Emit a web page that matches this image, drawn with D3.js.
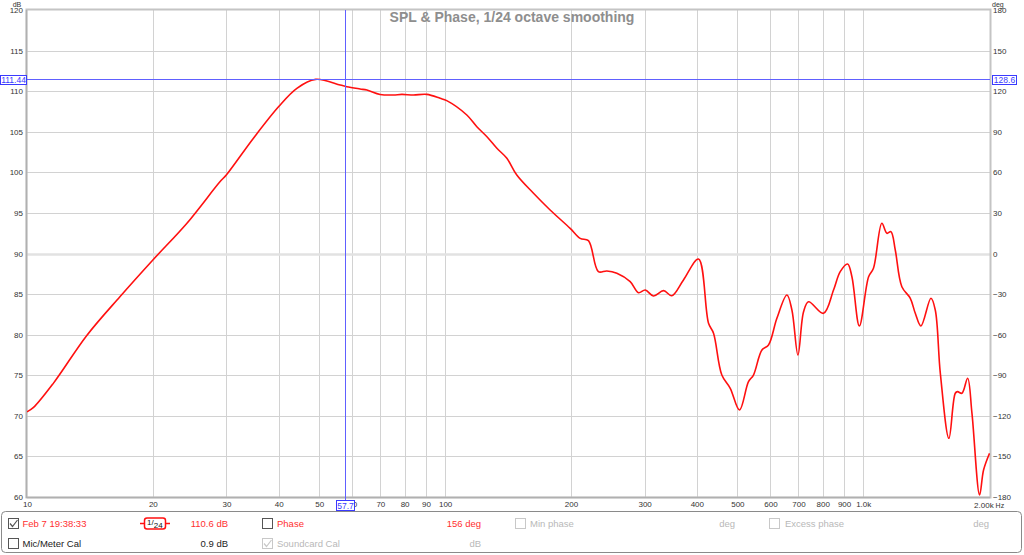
<!DOCTYPE html>
<html><head><meta charset="utf-8">
<script src="https://cdn.jsdelivr.net/npm/d3@7"></script>
<style>body{margin:0;background:#fff;} svg{display:block;font-family:"Liberation Sans",Arial,sans-serif;}</style>
</head><body><svg id="c" width="1024" height="555"></svg>
<script>
const freqs = [10,10.35,11.56,13.9,16.7,20,24.1,28.9,30,34.8,40,44.2,49,56.1,58.2,62.6,65,69.9,75.2,78.8,84,90.4,97.3,100.9,112.7,119.1,125.9,133,140.5,148.4,162.7,178.3,199.1,210.4,220.2,232.6,243.7,257.5,277.1,290.1,301,315,333,348.5,371.6,403.6,426.6,438.5,459,480.8,505.8,531.6,546.4,572.4,593.6,621.6,656.9,675.2,698,719.9,740,803.5,849.2,881,917.5,939.6,979,1030,1058,1108,1139,1165,1193,1237,1296,1332,1374,1452,1487,1529,1603,1660,1681,1722,1777,1820,1898,1940,2005];
const spl = [70.5,71.0,74.0,79.9,84.7,89.2,93.7,98.8,99.7,104.2,108.1,110.35,111.45,110.76,110.55,110.27,110.14,109.6,109.53,109.6,109.53,109.6,109.12,108.83,107.06,105.62,104.39,102.96,101.73,99.67,97.42,95.36,93.1,91.87,91.58,87.76,87.85,87.56,86.53,85.17,85.5,84.77,85.42,84.8,86.74,89.32,81.4,80.17,75.03,73.39,70.72,74.21,75.03,78.11,78.73,82.02,84.89,83.04,77.5,82.83,84.06,82.63,85.5,87.76,88.71,87.14,81.07,87.14,88.18,93.72,92.49,92.69,90.43,85.91,84.48,82.63,81.07,84.48,83.04,75.24,67.23,72.78,72.98,72.78,74.63,70.3,60.25,63.33,65.39];
const dbTicks = [60,65,70,75,80,85,90,95,100,105,110,115,120];
const phaseTicks = [-180,-150,-120,-90,-60,-30,0,30,60,90,120,150,180];
const freqTicks = [10,20,30,40,50,60,70,80,90,100,200,300,400,500,600,700,800,900,1000];
const freqTickLabels = ["10","20","30","40","50","60","70","80","90","100","200","300","400","500","600","700","800","900","1.0k"];
const cursorFreq = 57.7, cursorDb = 111.44, cursorPhase = 128.6;

const L=27,T=10,R=990,B=497;
const svg = d3.select("#c");
const x = d3.scaleLog().domain([10,2010]).range([L,R]);
const y = d3.scaleLinear().domain([60,120]).range([B,T]);
const yp = d3.scaleLinear().domain([-180,180]).range([B,T]);

// grid
const g = svg.append("g");
g.selectAll(".vg").data(freqTicks.filter(d=>d>10)).enter().append("line")
  .attr("x1",d=>Math.round(x(d))+0.5).attr("x2",d=>Math.round(x(d))+0.5).attr("y1",T).attr("y2",B)
  .attr("stroke","#d2d2d2").attr("stroke-width",1);
g.selectAll(".hg").data(dbTicks.filter(d=>d>60&&d<120)).enter().append("line")
  .attr("x1",L).attr("x2",R).attr("y1",d=>Math.round(y(d))+0.5).attr("y2",d=>Math.round(y(d))+0.5)
  .attr("stroke",d=>d===90?"#e2e2e2":"#d2d2d2").attr("stroke-width",d=>d===90?2.5:1);

// frame
svg.append("rect").attr("x",L-0.5).attr("y",T-0.5).attr("width",R-L+1).attr("height",B-T+1)
  .attr("fill","none").attr("stroke","#c4c4c4").attr("stroke-width",2);
svg.append("line").attr("x1",L-0.5).attr("x2",L-0.5).attr("y1",T).attr("y2",B+1).attr("stroke","#b0b0b0").attr("stroke-width",1.5);
svg.append("line").attr("x1",L).attr("x2",R).attr("y1",B+0.5).attr("y2",B+0.5).attr("stroke","#b0b0b0").attr("stroke-width",1.5);

// axes
const axStyle = sel => { sel.select(".domain").remove(); sel.selectAll("line").remove();
  sel.selectAll("text").attr("fill","#333").style("font-size","8px").style("font-family","'Liberation Sans',Arial,sans-serif"); };
svg.append("g").attr("transform",`translate(${L},0)`)
  .call(d3.axisLeft(y).tickValues(dbTicks).tickSize(0).tickPadding(4)).call(axStyle);
svg.append("g").attr("transform",`translate(${R},0)`)
  .call(d3.axisRight(yp).tickValues(phaseTicks).tickSize(0).tickPadding(3)).call(axStyle);
svg.append("g").attr("transform",`translate(0,${B})`)
  .call(d3.axisBottom(x).tickValues(freqTicks).tickFormat((d,i)=>freqTickLabels[i]).tickSize(0).tickPadding(4)).call(axStyle);
svg.append("text").attr("x",x(2000)-15).attr("y",508).attr("fill","#333").style("font-size","8px")
  .text("2.00k").append("tspan").style("font-size","7px").text(" Hz");
svg.append("text").attr("x",17).attr("y",6.5).attr("text-anchor","middle").attr("fill","#333").style("font-size","7px").text("dB");
svg.append("text").attr("x",992).attr("y",6.5).attr("fill","#333").style("font-size","7px").text("deg");

// title
svg.append("text").attr("x",512).attr("y",22).attr("text-anchor","middle").attr("fill","#8e8e8e")
  .style("font-size","14px").style("font-weight","bold").text("SPL & Phase, 1/24 octave smoothing");

// curve
svg.append("clipPath").attr("id","clip").append("rect").attr("x",L).attr("y",T).attr("width",R-L).attr("height",B-T);
const line = d3.line().x((d,i)=>x(freqs[i])).y(d=>y(d)).curve(d3.curveCatmullRom.alpha(0.5));
svg.append("path").attr("d",line(spl)).attr("fill","none").attr("stroke","#ff1010").attr("stroke-width",1.6)
  .attr("clip-path","url(#clip)");

// cursors
const cx = Math.round(x(cursorFreq))+0.5, cy = Math.round(y(cursorDb))+0.5;
svg.append("line").attr("x1",cx).attr("x2",cx).attr("y1",T).attr("y2",B+4).attr("stroke","#6060ff").attr("stroke-width",1).attr("shape-rendering","crispEdges");
svg.append("line").attr("x1",L).attr("x2",R).attr("y1",cy).attr("y2",cy).attr("stroke","#6060ff").attr("stroke-width",1).attr("shape-rendering","crispEdges");
const box = (bx,by,w,h,txt)=>{
  svg.append("rect").attr("x",bx+0.5).attr("y",by+0.5).attr("width",w).attr("height",h).attr("fill","#fff").attr("stroke","#3a3aff");
  svg.append("text").attr("x",bx+w/2+0.5).attr("y",by+h/2+3.5).attr("text-anchor","middle").attr("fill","#3a3aff").style("font-size","8.5px").text(txt);
};
box(cx-9.5,500,18,10,String(cursorFreq));
box(0,cy-4.5,26,9,cursorDb.toFixed(2));
box(992,cy-4.5,24,9,String(cursorPhase));

// legend panel
svg.append("rect").attr("x",1.5).attr("y",511.5).attr("width",1020).attr("height",41).attr("rx",4)
  .attr("fill","#fff").attr("stroke","#8a8a8a");
const cb = (bx,by,checked,col)=>{
  svg.append("rect").attr("x",bx+0.5).attr("y",by+0.5).attr("width",10).attr("height",10).attr("fill","#fff").attr("stroke",col);
  if(checked) svg.append("path").attr("d",`M${bx+2},${by+5.5} L${bx+4.5},${by+8.5} L${bx+9.5},${by+2}`).attr("fill","none").attr("stroke",col).attr("stroke-width",1.2);
};
const txt = (tx,ty,s,col,anchor)=>svg.append("text").attr("x",tx).attr("y",ty).attr("fill",col).attr("text-anchor",anchor||"start").style("font-size","9.5px").text(s);
const r1 = 526.5, r2 = 546.5;
cb(8,518,true,"#555"); txt(22.5,r1,"Feb 7 19:38:33","#ff3030");
// smoothing icon
svg.append("line").attr("x1",140).attr("x2",145).attr("y1",523.5).attr("y2",523.5).attr("stroke","#ff1010").attr("stroke-width",1.5);
svg.append("line").attr("x1",165).attr("x2",170).attr("y1",523.5).attr("y2",523.5).attr("stroke","#ff1010").attr("stroke-width",1.5);
svg.append("rect").attr("x",144.5).attr("y",518).attr("width",21).attr("height",11).attr("rx",2.5).attr("fill","#fff").attr("stroke","#ff1010").attr("stroke-width",1.5);
const st = svg.append("text").attr("x",147).attr("y",525).attr("fill","#111").style("font-size","8px");
st.append("tspan").text("1");
st.append("tspan").text("/").attr("dy",0);
st.append("tspan").text("24").attr("dy",2.5);
txt(228,r1,"110.6 dB","#ff3030","end");
cb(262,518,false,"#555"); txt(277,r1,"Phase","#ff3030");
txt(481,r1,"156 deg","#ff3030","end");
cb(515,518,false,"#c8c8c8"); txt(530,r1,"Min phase","#b8b8b8");
txt(735,r1,"deg","#b8b8b8","end");
cb(769,518,false,"#c8c8c8"); txt(785,r1,"Excess phase","#b8b8b8");
txt(989,r1,"deg","#b8b8b8","end");
cb(8,538,false,"#555"); txt(22.5,r2,"Mic/Meter Cal","#222");
txt(228,r2,"0.9 dB","#222","end");
cb(262,538,true,"#c8c8c8"); txt(277,r2,"Soundcard Cal","#b8b8b8");
txt(481,r2,"dB","#b8b8b8","end");
</script></body></html>
